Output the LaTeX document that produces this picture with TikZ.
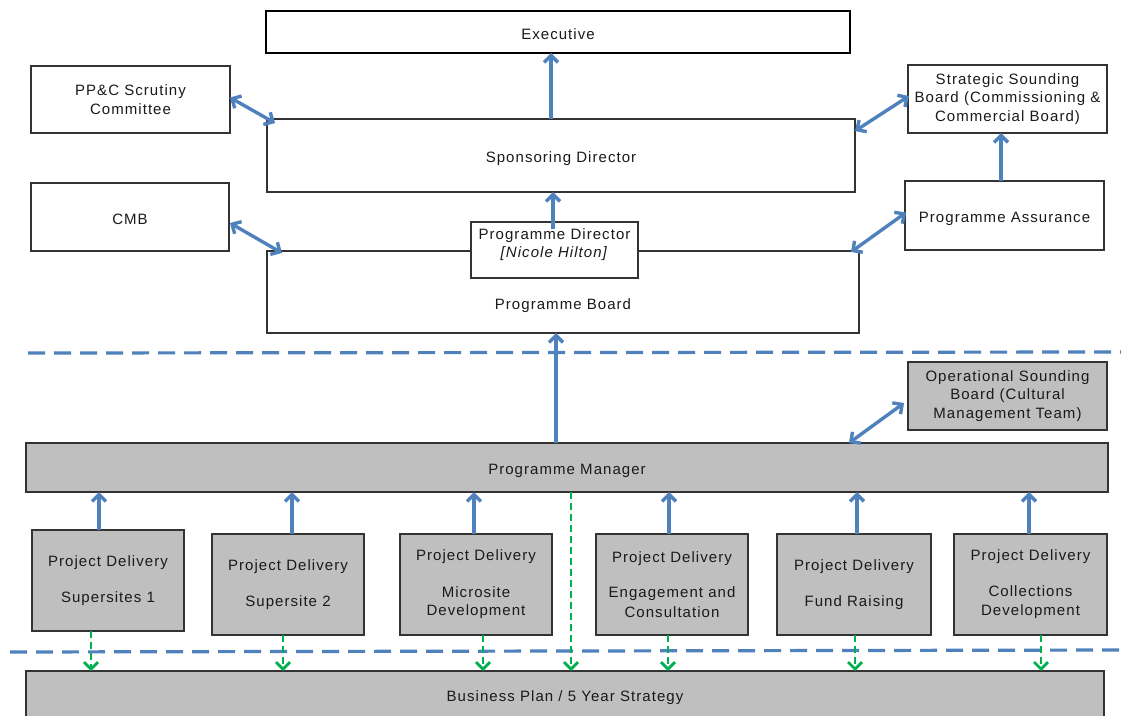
\documentclass[tikz,border=0pt]{standalone}
\usepackage{fontspec}
\setmainfont{Liberation Sans}[LetterSpace=7]
\usetikzlibrary{arrows.meta,calc}
\definecolor{myblue}{HTML}{4F81BD}
\definecolor{mygreen}{HTML}{00B050}
\definecolor{mygray}{HTML}{BFBFBF}
\definecolor{myborder}{HTML}{333333}
\definecolor{mytext}{HTML}{1A1A1A}
\begin{document}
\begin{tikzpicture}[x=1pt,y=-1pt,
  >={Straight Barb[length=7pt,width=14pt]},
  box/.style={draw=myborder, line width=2.1pt, fill=white, inner sep=0pt, outer sep=0pt,
    align=center, font=\fontsize{15}{18.5}\selectfont, text=mytext},
  one/.style={text height=14.5pt, text depth=0pt},
  gbox/.style={box, fill=mygray},
  bluearr/.style={draw=myblue, line width=3.4pt, ->},
  bluedbl/.style={draw=myblue, line width=3.4pt, <->},
  greenarr/.style={draw=mygreen, line width=2.8pt, dash pattern=on 7pt off 4pt, ->},
  sepline/.style={draw=myblue, line width=3.2pt, dash pattern=on 17pt off 9pt},
]
\clip (0,0) rectangle (1121,715);
\fill[white] (0,0) rectangle (1121,715);

% top level
\node[box, one, draw=black, line width=2.8pt, minimum width=584pt, minimum height=42pt] (exec) at (558,32) {Executive};
\node[box, minimum width=199pt, minimum height=67pt] (ppc) at (130.5,99.5) {PP\&C Scrutiny\\Committee};
\node[box, one, minimum width=588pt, minimum height=73pt] (sd) at (561,155.5) {Sponsoring Director};
\node[box, minimum width=199pt, minimum height=68pt] (ssb) at (1007.5,99) {Strategic Sounding\\Board (Commissioning \&\\Commercial Board)};
\node[box, one, minimum width=198pt, minimum height=68pt] (cmb) at (130,217) {CMB};
\node[box, one, minimum width=199pt, minimum height=69pt] (pa) at (1004.5,215.5) {Programme Assurance};
\node[box, minimum width=592pt, minimum height=82pt,
  label={[font=\fontsize{15}{18.5}\selectfont, text=mytext, yshift=-13.5pt]center:Programme Board}] (pb) at (563,292) {};
\node[box, minimum width=167pt, minimum height=56pt, text depth=14pt] (pd) at (554.5,250) {Programme Director\\\textit{[Nicole Hilton]}};

% separators
\coordinate (s1a) at (28,353);
\coordinate (s1b) at (1121,352);
\draw[sepline] (s1a) -- (s1b);
\coordinate (s2a) at (10,652);
\coordinate (s2b) at (1121,650);
\draw[sepline] (s2a) -- (s2b);

% operational level
\node[gbox, minimum width=199pt, minimum height=68pt] (osb) at (1007.5,396) {Operational Sounding\\Board (Cultural\\Management Team)};
\node[gbox, one, minimum width=1082pt, minimum height=49pt] (pm) at (567,467.5) {Programme Manager};

\node[gbox, minimum width=152pt, minimum height=101pt] (p1) at (108,580.5) {Project Delivery\\[18pt]Supersites 1};
\node[gbox, minimum width=152pt, minimum height=101pt] (p2) at (288,584.5) {Project Delivery\\[17pt]Supersite 2};
\node[gbox, minimum width=152pt, minimum height=101pt] (p3) at (476,584.5) {Project Delivery\\[18pt]Microsite\\Development};
\node[gbox, minimum width=152pt, minimum height=101pt] (p4) at (672,584.5) {Project Delivery\\[17pt]Engagement and\\[1pt]Consultation};
\node[gbox, minimum width=154pt, minimum height=101pt] (p5) at (854,584.5) {Project Delivery\\[18pt]Fund Raising};
\node[gbox, minimum width=153pt, minimum height=101pt] (p6) at (1030.5,584.5) {Project Delivery\\[17pt]Collections\\[1pt]Development};

\node[gbox, minimum width=1078pt, minimum height=60pt,
  label={[font=\fontsize{15}{18.5}\selectfont, text=mytext, yshift=3pt]center:Business Plan / 5 Year Strategy}] (bp) at (565,701) {};

% blue vertical arrows
\draw[bluearr] (sd.north -| 551,0) -- (exec.south -| 551,0);
\draw[bluearr] ($(pd.north -| 553,0)+(0,7)$) -- (sd.south -| 553,0);
\draw[bluearr] (pm.north -| 556,0) -- (pb.south -| 556,0);
\draw[bluearr] (pa.north -| 1001,0) -- (ssb.south -| 1001,0);
\foreach \n/\x in {p1/99, p2/292, p3/474, p4/669, p5/857, p6/1029}
  \draw[bluearr] (\n.north -| \x,0) -- (pm.south -| \x,0);

% blue double arrows
\draw[bluedbl] ($(ppc.east)+(0,-2)$) -- ($(sd.north west)+(8,4)$);
\draw[bluedbl] ($(cmb.east)+(1,6)$) -- ($(pb.north west)+(15,2)$);
\draw[bluedbl] ($(ssb.west)+(1,-3)$) -- ($(sd.north east)+(0,12)$);
\draw[bluedbl] ($(pa.west)+(1,-3)$) -- ($(pb.north east)+(-8,1)$);
\draw[bluedbl] ($(osb.west)+(-4,7)$) -- (pm.north -| 849,0);

% green dashed arrows
\foreach \n/\x in {p1/91, p2/283, p3/483, p4/668, p5/855, p6/1041}
  \draw[greenarr] (\n.south -| \x,0) -- (bp.north -| \x,0);
\draw[greenarr] (pm.south -| 571,0) -- (bp.north -| 571,0);
\end{tikzpicture}
\end{document}
